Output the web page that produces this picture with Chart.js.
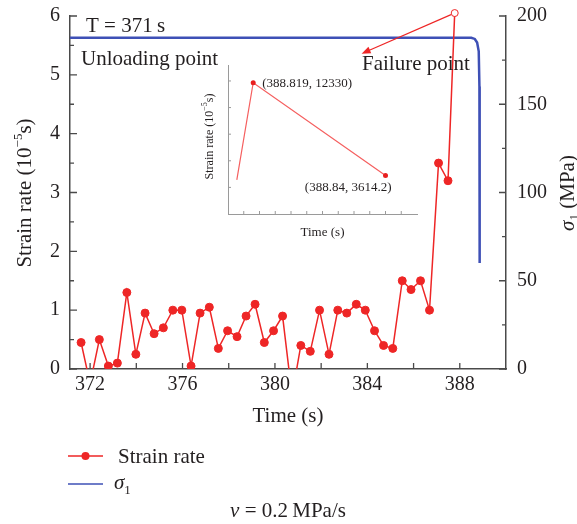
<!DOCTYPE html>
<html>
<head>
<meta charset="utf-8">
<script src="https://cdn.jsdelivr.net/npm/chart.js@4"></script>
<style>
  body { margin: 0; background: #fff; }
  #wrap { position: relative; width: 577px; height: 524px; }
  #main { position: absolute; left: 0; top: 0; }
  #inset { position: absolute; left: 190px; top: 50px; }
</style>
</head>
<body>
<div id="wrap">
  <canvas id="main" width="577" height="524"></canvas>
  <canvas id="inset" width="240" height="200"></canvas>
</div>
<script>
// strain rate (10^-5 s); dips below 0 get clipped
const timeS = [371.61, 372.0, 372.40, 372.79, 373.18, 373.59, 373.98, 374.38, 374.77, 375.17,
  375.58, 375.97, 376.37, 376.76, 377.16, 377.55, 377.95, 378.36, 378.75, 379.14,
  379.54, 379.94, 380.33, 380.74, 381.12, 381.53, 381.93, 382.34, 382.72, 383.11,
  383.52, 383.91, 384.31, 384.70, 385.10, 385.51, 385.89, 386.30, 386.69, 387.08,
  387.49, 387.78];
const strainRate = [0.45, -0.25, 0.5, 0.05, 0.1, 1.3, 0.25, 0.95, 0.6, 0.7,
  1.0, 1.0, 0.05, 0.95, 1.05, 0.35, 0.65, 0.55, 0.9, 1.1,
  0.45, 0.65, 0.9, -0.45, 0.4, 0.3, 1.0, 0.25, 1.0, 0.95,
  1.1, 1.0, 0.65, 0.4, 0.35, 1.5, 1.35, 1.5, 1.0, 3.5,
  3.2, 6.05];

// sigma1 (MPa)
const stressTime = [371.0, 388.5, 388.65, 388.75, 388.82, 388.85, 388.86];
const stressMPa = [187.7, 187.7, 187.0, 185.0, 180.0, 160.0, 60.0];

const xTicks = [372, 376, 380, 384, 388];
const xMinor = [374, 378, 382, 386];
const yTicks = [0, 1, 2, 3, 4, 5, 6];
const yMinor = [0.5, 1.5, 2.5, 3.5, 4.5, 5.5];
const y2Ticks = [0, 50, 100, 150, 200];
const y2Minor = [25, 75, 125, 175];

// inset
const insetTime = [388.8164, 388.819, 388.84];
const insetRate = [3200, 12330, 3614.2];
const insetXTicks = [388.8175, 388.82, 388.8225, 388.825, 388.8275, 388.83, 388.8325,
  388.835, 388.8375, 388.84, 388.8425];
const insetYTicks = [2500, 5000, 7500, 10000, 12500];

const RED = 'rgb(238,38,38)';
const BLUE = 'rgb(62,80,182)';
const AXIS = '#4a4a4a';
const INK = '#231f20';
const FF = '"Liberation Serif", "DejaVu Serif", serif';

function fontOf(p) {
  return (p.it ? 'italic ' : '') + (p.s || 21) + 'px ' + FF;
}

// draw text made of several runs (sub/superscripts, italics)
function rich(c, parts, x, y, align, rot) {
  c.save();
  c.translate(x, y);
  if (rot) c.rotate(rot);
  c.textBaseline = 'alphabetic';
  c.textAlign = 'left';
  c.fillStyle = INK;
  let w = 0;
  parts.forEach(p => { c.font = fontOf(p); w += c.measureText(p.t).width; });
  let cx = align === 'center' ? -w / 2 : (align === 'right' ? -w : 0);
  parts.forEach(p => {
    c.font = fontOf(p);
    c.fillText(p.t, cx, p.dy || 0);
    cx += c.measureText(p.t).width;
  });
  c.restore();
}

function innerTicks(chart, id, values, len, color, lw) {
  const s = chart.scales[id], a = chart.chartArea, c = chart.ctx;
  c.save();
  c.strokeStyle = color;
  c.lineWidth = lw;
  c.beginPath();
  values.forEach(v => {
    const p = s.getPixelForValue(v);
    if (s.isHorizontal()) { c.moveTo(p, a.bottom); c.lineTo(p, a.bottom - len); }
    else if (s.position === 'left') { c.moveTo(a.left, p); c.lineTo(a.left + len, p); }
    else { c.moveTo(a.right, p); c.lineTo(a.right - len, p); }
  });
  c.stroke();
  c.restore();
}

// keep tick labels from pushing the plot area around
function noPad(s) {
  s.paddingTop = 0; s.paddingBottom = 0; s.paddingLeft = 0; s.paddingRight = 0;
}

const mainDecor = {
  id: 'mainDecor',
  afterDraw(chart) {
    const c = chart.ctx, x = chart.scales.x, y = chart.scales.y;
    innerTicks(chart, 'x', xTicks.concat(xMinor), 6, AXIS, 1.3);
    innerTicks(chart, 'y', yTicks, 7, AXIS, 1.3);
    innerTicks(chart, 'y', yMinor, 4, AXIS, 1.3);
    innerTicks(chart, 'y2', y2Ticks, 7, AXIS, 1.3);
    innerTicks(chart, 'y2', y2Minor, 4, AXIS, 1.3);

    // axis titles
    rich(c, [{t: 'Strain rate (10'}, {t: '\u22125', s: 13, dy: -9}, {t: 's)'}], 31, 193, 'center', -Math.PI / 2);
    rich(c, [{t: '\u03c3', it: true}, {t: '1', s: 13, dy: 4}, {t: ' (MPa)'}], 574, 193, 'center', -Math.PI / 2);
    rich(c, [{t: 'Time (s)'}], (chart.chartArea.left + chart.chartArea.right) / 2, 422, 'center');

    // annotations
    rich(c, [{t: 'T = 371\u2009s'}], 86, 32, 'left');
    rich(c, [{t: 'Unloading point'}], 81, 65, 'left');
    rich(c, [{t: 'Failure point'}], 362, 70, 'left');

    // arrow from failure marker to label
    const last = timeS.length - 1;
    const x0 = x.getPixelForValue(timeS[last]), y0 = y.getPixelForValue(strainRate[last]);
    const x1 = x.getPixelForValue(383.75), y1 = y.getPixelForValue(5.36);
    const ang = Math.atan2(y1 - y0, x1 - x0);
    c.save();
    c.strokeStyle = RED; c.fillStyle = RED; c.lineWidth = 1.2;
    c.beginPath();
    c.moveTo(x0 + 4 * Math.cos(ang), y0 + 4 * Math.sin(ang));
    c.lineTo(x1 - 6 * Math.cos(ang), y1 - 6 * Math.sin(ang));
    c.stroke();
    c.beginPath();
    c.moveTo(x1, y1);
    c.lineTo(x1 - 9 * Math.cos(ang) + 3.5 * Math.sin(ang), y1 - 9 * Math.sin(ang) - 3.5 * Math.cos(ang));
    c.lineTo(x1 - 9 * Math.cos(ang) - 3.5 * Math.sin(ang), y1 - 9 * Math.sin(ang) + 3.5 * Math.cos(ang));
    c.closePath();
    c.fill();

    // legend
    c.lineWidth = 1.5;
    c.strokeStyle = RED;
    c.beginPath(); c.moveTo(68, 456); c.lineTo(103, 456); c.stroke();
    c.beginPath(); c.arc(85.5, 456, 4, 0, Math.PI * 2); c.fill();
    c.strokeStyle = BLUE;
    c.beginPath(); c.moveTo(68, 484); c.lineTo(103, 484); c.stroke();
    c.restore();
    rich(c, [{t: 'Strain rate'}], 118, 463, 'left');
    rich(c, [{t: '\u03c3', it: true}, {t: '1', s: 13, dy: 5}], 114, 489, 'left');

    // caption
    rich(c, [{t: '\u03bd', it: true}, {t: ' = 0.2\u2009MPa/s'}], 288, 517, 'center');
  }
};

new Chart(document.getElementById('main'), {
  type: 'line',
  data: {
    datasets: [
      {
        label: 'Strain rate',
        data: timeS.map((t, i) => ({x: t, y: strainRate[i]})),
        yAxisID: 'y',
        borderColor: RED,
        borderWidth: 1.5,
        pointRadius: ctx => ctx.dataIndex === timeS.length - 1 ? 3.5 : 4,
        pointBorderWidth: 1,
        pointBorderColor: RED,
        pointBackgroundColor: ctx => ctx.dataIndex === timeS.length - 1 ? '#fff' : RED,
        tension: 0,
        clip: {left: 0, top: 9, right: 0, bottom: 0}
      },
      {
        label: '\u03c31',
        data: stressTime.map((t, i) => ({x: t, y: stressMPa[i]})),
        yAxisID: 'y2',
        borderColor: BLUE,
        borderWidth: 2.5,
        pointRadius: 0,
        tension: 0
      }
    ]
  },
  options: {
    responsive: false,
    animation: false,
    events: [],
    layout: {padding: {top: 16, left: 0, right: 0, bottom: 0}},
    plugins: {legend: {display: false}, tooltip: {enabled: false}},
    scales: {
      x: {
        type: 'linear', min: 371.13, max: 390,
        grid: {display: false, drawTicks: false},
        border: {display: true, color: AXIS, width: 1.5},
        ticks: {font: {family: FF, size: 20}, color: INK, padding: 4, maxRotation: 0},
        afterBuildTicks: s => { s.ticks = xTicks.map(v => ({value: v})); },
        afterFit: s => { s.height = 155; noPad(s); }
      },
      y: {
        position: 'left', min: 0, max: 6,
        grid: {display: false, drawTicks: false},
        border: {display: true, color: AXIS, width: 1.5},
        ticks: {font: {family: FF, size: 20}, color: INK, padding: 10},
        afterBuildTicks: s => { s.ticks = yTicks.map(v => ({value: v})); },
        afterFit: s => { s.width = 70; noPad(s); }
      },
      y2: {
        position: 'right', min: 0, max: 200,
        grid: {display: false, drawTicks: false},
        border: {display: true, color: AXIS, width: 1.5},
        ticks: {font: {family: FF, size: 20}, color: INK, padding: 11},
        afterBuildTicks: s => { s.ticks = y2Ticks.map(v => ({value: v})); },
        afterFit: s => { s.width = 71; noPad(s); }
      }
    }
  },
  plugins: [mainDecor]
});

const insetDecor = {
  id: 'insetDecor',
  afterDraw(chart) {
    const c = chart.ctx, x = chart.scales.x, y = chart.scales.y, a = chart.chartArea;
    innerTicks(chart, 'x', insetXTicks, 3, '#9a9a9a', 1);
    innerTicks(chart, 'y', insetYTicks, 3, '#9a9a9a', 1);
    const p1x = x.getPixelForValue(insetTime[1]), p1y = y.getPixelForValue(insetRate[1]);
    const p2x = x.getPixelForValue(insetTime[2]), p2y = y.getPixelForValue(insetRate[2]);
    rich(c, [{t: '(388.819, 12330)', s: 13}], p1x + 9, p1y + 4, 'left');
    rich(c, [{t: '(388.84, 3614.2)', s: 13}], p2x + 6, p2y + 15, 'right');
    rich(c, [{t: 'Strain rate (10', s: 12}, {t: '\u22125', s: 8, dy: -6}, {t: 's)', s: 12}], 23, (a.top + a.bottom) / 2 - 3, 'center', -Math.PI / 2);
    rich(c, [{t: 'Time (s)', s: 13}], (a.left + a.right) / 2, 186, 'center');
  }
};

new Chart(document.getElementById('inset'), {
  type: 'line',
  data: {
    datasets: [{
      data: insetTime.map((t, i) => ({x: t, y: insetRate[i]})),
      borderColor: 'rgb(245,95,95)',
      borderWidth: 1.2,
      pointRadius: ctx => ctx.dataIndex === 0 ? 0 : 2.5,
      pointBorderWidth: 0,
      pointBackgroundColor: 'rgb(232,30,30)',
      tension: 0
    }]
  },
  options: {
    responsive: false,
    animation: false,
    events: [],
    layout: {padding: {top: 15, right: 13, left: 0, bottom: 0}},
    plugins: {legend: {display: false}, tooltip: {enabled: false}},
    scales: {
      x: {
        type: 'linear', min: 388.815, max: 388.845,
        grid: {display: false, drawTicks: false},
        border: {display: true, color: '#9a9a9a', width: 1},
        ticks: {display: false},
        afterFit: s => { s.height = 36; noPad(s); }
      },
      y: {
        min: 0, max: 14000,
        grid: {display: false, drawTicks: false},
        border: {display: true, color: '#9a9a9a', width: 1},
        ticks: {display: false},
        afterFit: s => { s.width = 38; noPad(s); }
      }
    }
  },
  plugins: [insetDecor]
});
</script>
</body>
</html>
